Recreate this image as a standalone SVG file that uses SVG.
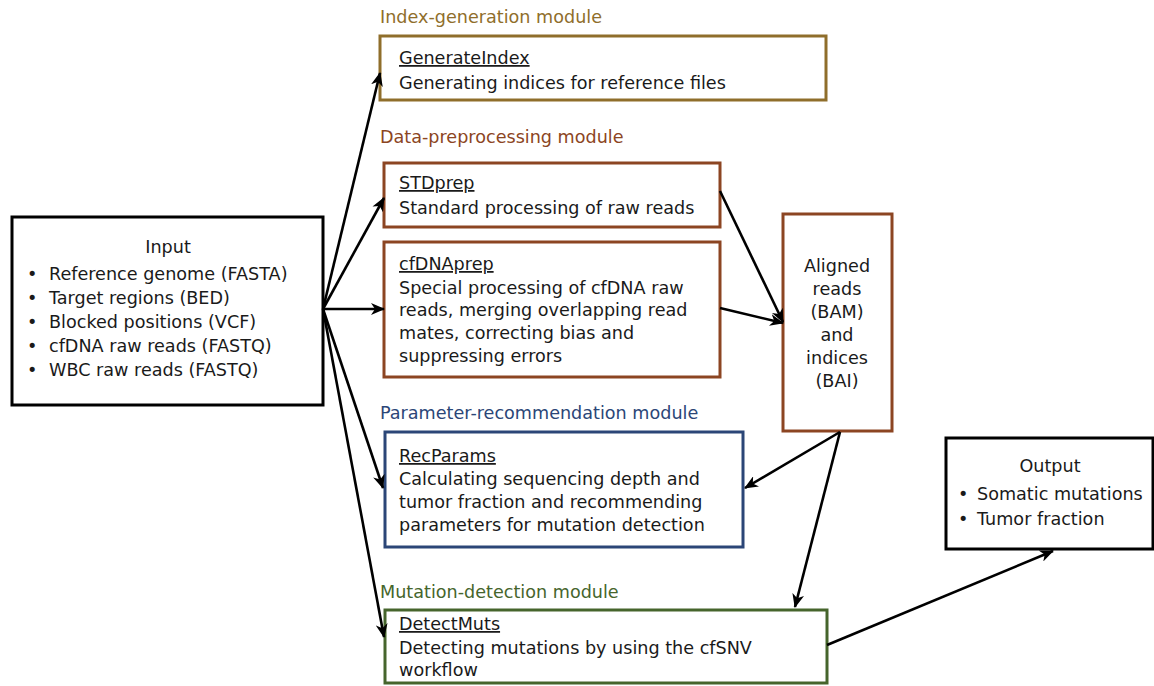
<svg xmlns="http://www.w3.org/2000/svg" width="1154" height="686" viewBox="0 0 1154 686">
<style>
text{font-family:"DejaVu Sans","Liberation Sans",sans-serif;font-size:17.6px;fill:#1a1a1a}
.box{fill:#fff;stroke-width:3}
.blk{stroke:#000}
.gold{stroke:#8f6e2b}
.brn{stroke:#8c4522}
.blu{stroke:#2b4677}
.grn{stroke:#46652c}
.lg{fill:#8f6e2b}.lb{fill:#8c4522}.lbl{fill:#2b4677}.lgr{fill:#46652c}
.u{text-decoration:underline}
.c{text-anchor:middle}
.con line{stroke:#000;stroke-width:2.6;marker-end:url(#ah)}
</style>
<defs>
<marker id="ah" markerUnits="userSpaceOnUse" markerWidth="16" markerHeight="12" refX="13" refY="6" orient="auto">
<path d="M0,0 L14,6 L0,12 L4,6 Z" fill="#000"/>
</marker>
</defs>
<rect width="1154" height="686" fill="#fff"/>
<g id="input">
<rect class="box blk" x="12" y="217" width="311" height="188"/>
<text class="c" x="168" y="253">Input</text>
<text x="27" y="280">•</text><text x="49" y="280">Reference genome (FASTA)</text>
<text x="27" y="304">•</text><text x="49" y="304">Target regions (BED)</text>
<text x="27" y="328">•</text><text x="49" y="328">Blocked positions (VCF)</text>
<text x="27" y="352">•</text><text x="49" y="352">cfDNA raw reads (FASTQ)</text>
<text x="27" y="376">•</text><text x="49" y="376">WBC raw reads (FASTQ)</text>
</g>
<g id="generateindex">
<text class="lg" x="380" y="23">Index-generation module</text>
<rect class="box gold" x="380" y="36" width="446" height="64"/>
<text class="u" x="399" y="64">GenerateIndex</text>
<text x="399" y="89">Generating indices for reference files</text>
</g>
<g id="stdprep">
<text class="lb" x="380" y="143">Data-preprocessing module</text>
<rect class="box brn" x="384" y="163" width="336" height="64"/>
<text class="u" x="399" y="189">STDprep</text>
<text x="399" y="214">Standard processing of raw reads</text>
</g>
<g id="cfdnaprep">
<rect class="box brn" x="384" y="242" width="336" height="135"/>
<text class="u" x="399" y="270">cfDNAprep</text>
<text x="399" y="294">Special processing of cfDNA raw</text>
<text x="399" y="316">reads, merging overlapping read</text>
<text x="399" y="339">mates, correcting bias and</text>
<text x="399" y="362">suppressing errors</text>
</g>
<g id="aligned">
<rect class="box brn" x="783" y="214" width="109" height="217"/>
<text class="c" x="837" y="272">Aligned</text>
<text class="c" x="837" y="295">reads</text>
<text class="c" x="837" y="318">(BAM)</text>
<text class="c" x="837" y="341">and</text>
<text class="c" x="837" y="364">indices</text>
<text class="c" x="837" y="387">(BAI)</text>
</g>
<g id="recparams">
<text class="lbl" x="380" y="419">Parameter-recommendation module</text>
<rect class="box blu" x="385" y="432" width="358" height="115"/>
<text class="u" x="399" y="462">RecParams</text>
<text x="399" y="485">Calculating sequencing depth and</text>
<text x="399" y="508">tumor fraction and recommending</text>
<text x="399" y="531">parameters for mutation detection</text>
</g>
<g id="detectmuts">
<text class="lgr" x="380" y="598">Mutation-detection module</text>
<rect class="box grn" x="385" y="610" width="442" height="73"/>
<text class="u" x="399" y="630">DetectMuts</text>
<text x="399" y="654">Detecting mutations by using the cfSNV</text>
<text x="399" y="676">workflow</text>
</g>
<g id="output">
<rect class="box blk" x="946" y="438" width="207" height="111"/>
<text class="c" x="1050" y="472">Output</text>
<text x="958" y="500">•</text><text x="977" y="500">Somatic mutations</text>
<text x="958" y="525">•</text><text x="977" y="525">Tumor fraction</text>
</g>
<g id="connectors" class="con">
<line x1="323" y1="309" x2="380" y2="73"/>
<line x1="323" y1="309" x2="384" y2="198"/>
<line x1="323" y1="309" x2="384" y2="309"/>
<line x1="323" y1="309" x2="383" y2="488"/>
<line x1="323" y1="309" x2="384" y2="637"/>
<line x1="720" y1="191" x2="783" y2="322"/>
<line x1="720" y1="308" x2="783" y2="323"/>
<line x1="840" y1="432" x2="745" y2="488"/>
<line x1="840" y1="432" x2="795" y2="607"/>
<line x1="827" y1="645" x2="1053" y2="551"/>
</g>
</svg>
